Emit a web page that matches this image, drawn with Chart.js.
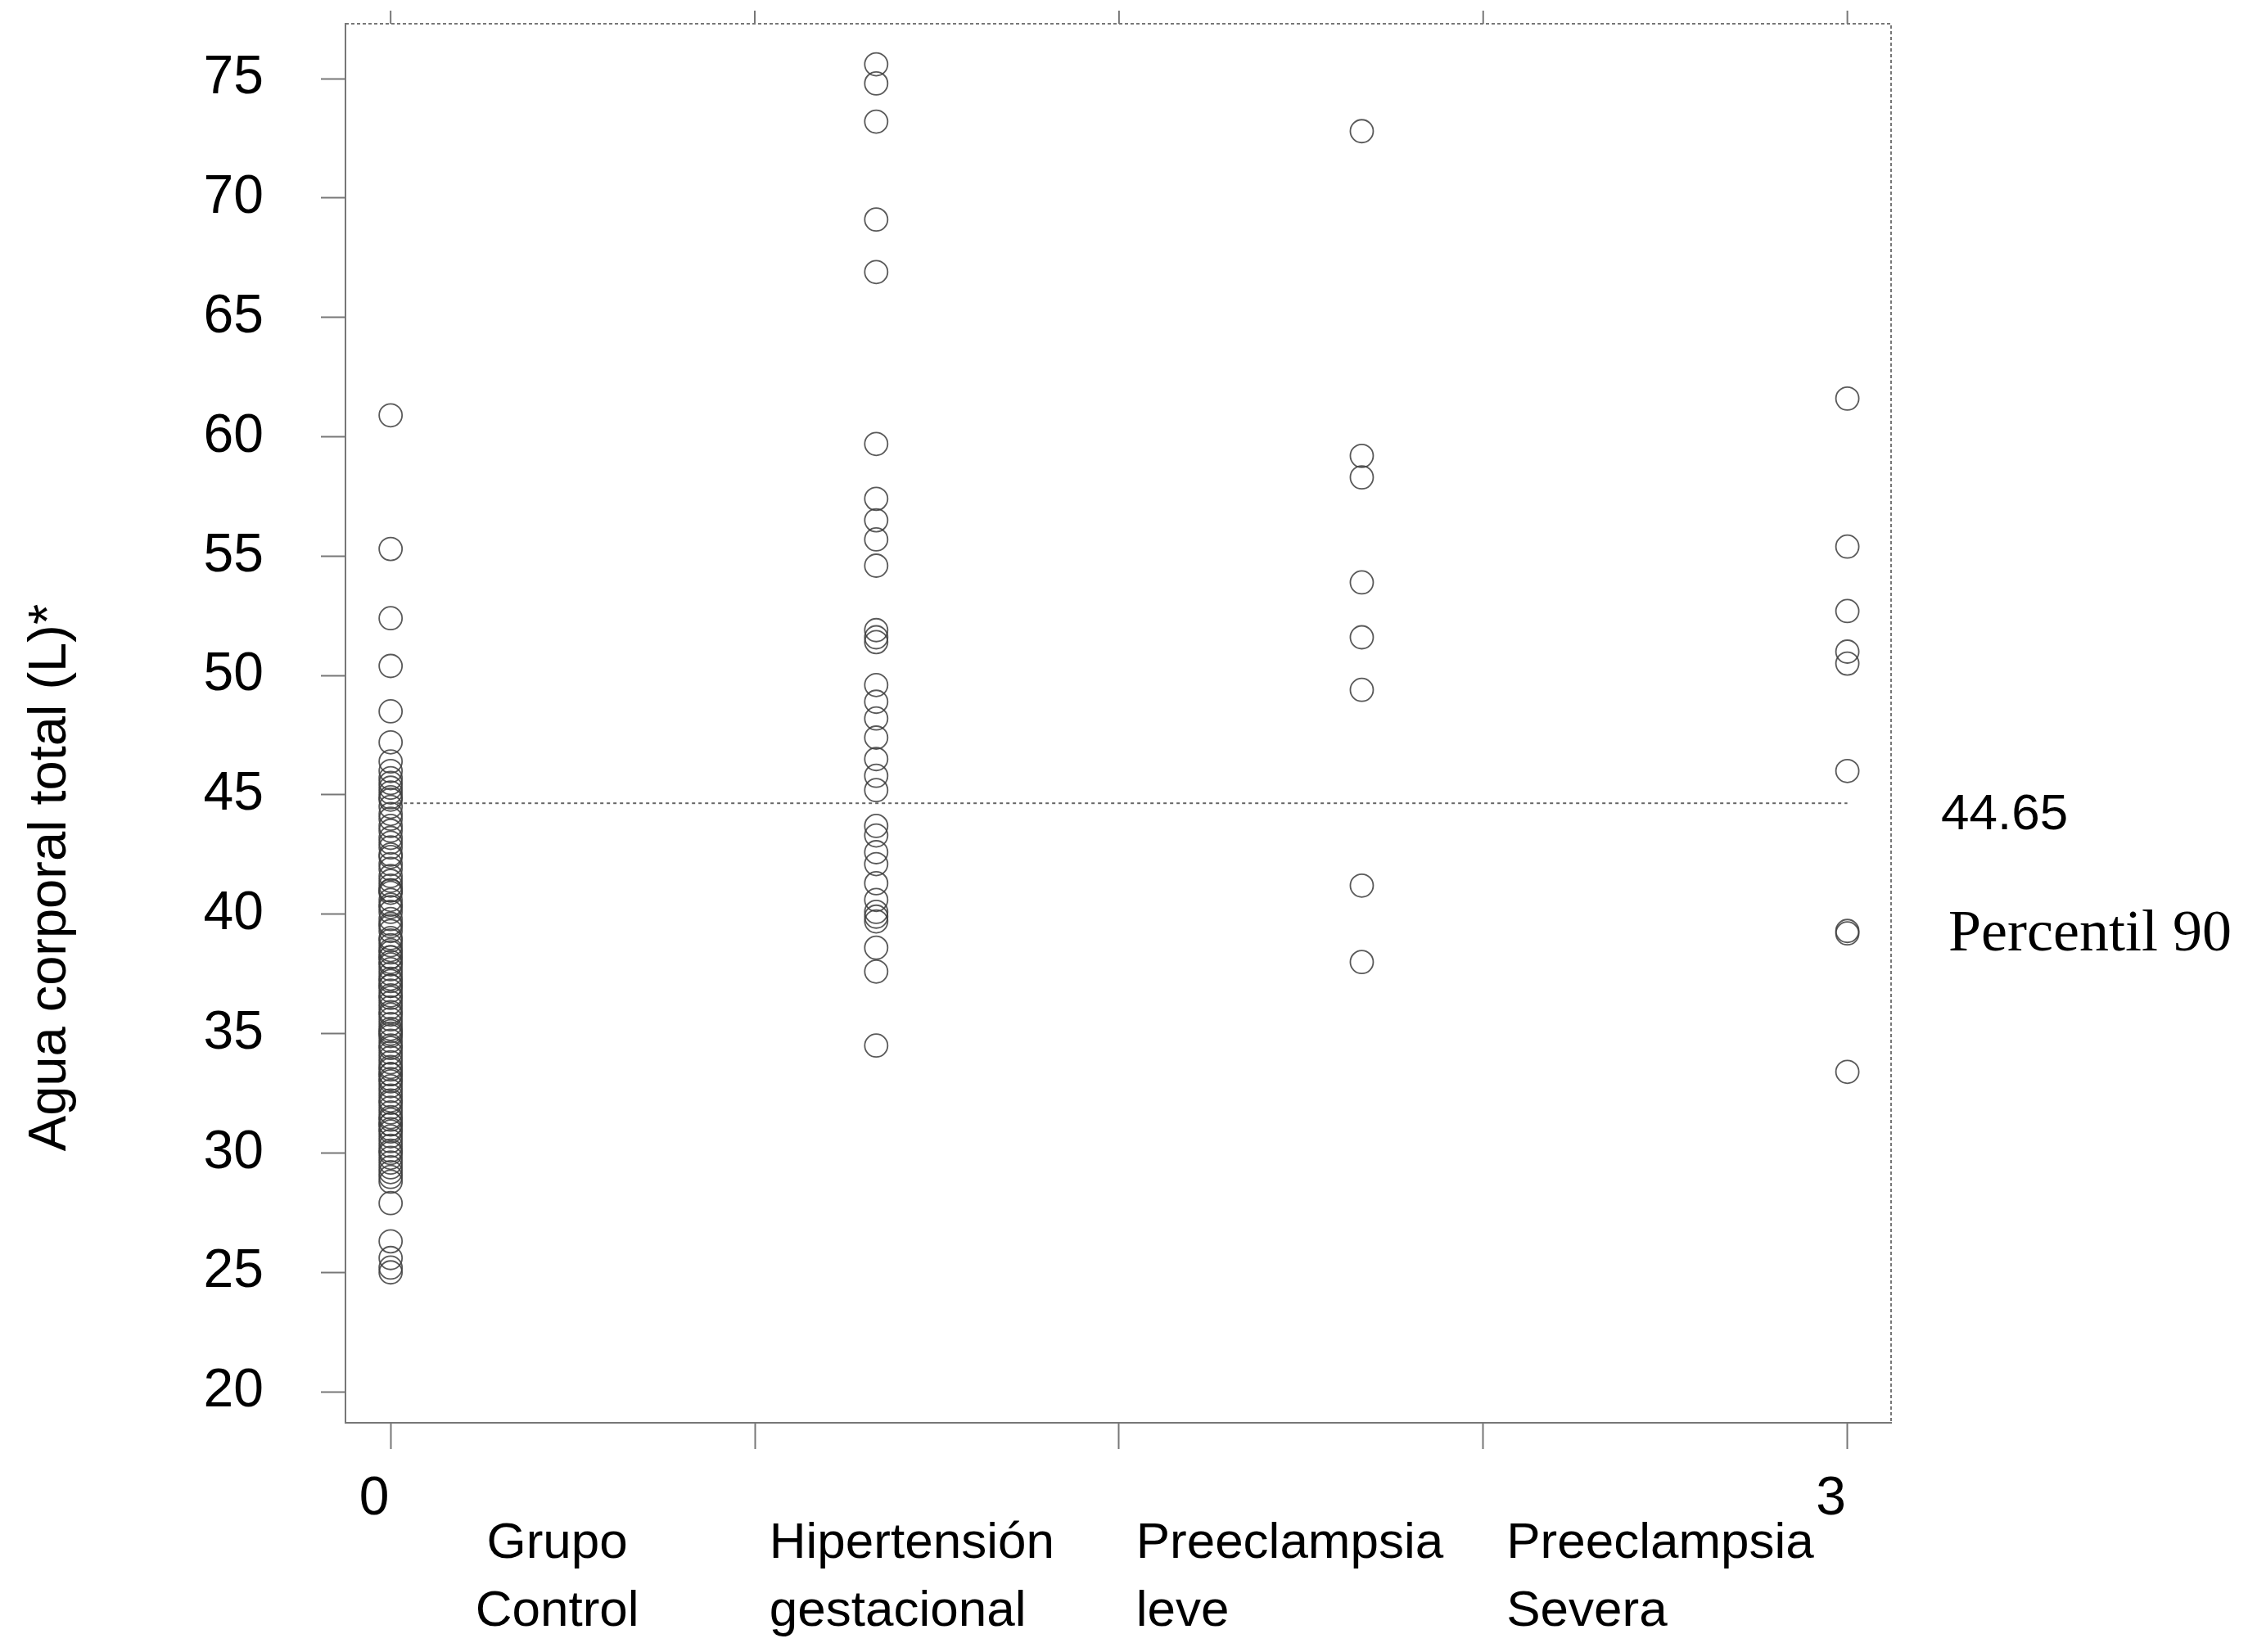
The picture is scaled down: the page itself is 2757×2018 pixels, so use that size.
<!DOCTYPE html>
<html>
<head>
<meta charset="utf-8">
<script src="https://cdn.jsdelivr.net/npm/chart.js@4.4.1/dist/chart.umd.min.js"></script>
<style>
  html, body { margin: 0; padding: 0; background: #fff; }
  #wrap { width: 2757px; height: 2018px; position: relative; }
</style>
</head>
<body>
<div id="wrap"><canvas id="waterChart"></canvas></div>
<script>
// 그룹 위치 (X축 값)
const groupX = [0, 1, 2, 3];

// 그룹별 카테고리 라벨 (두 줄)
const categoryLines = [
    ['Grupo', 'Control'],
    ['Hipertensión', 'gestacional'],
    ['Preeclampsia', 'leve'],
    ['Preeclampsia', 'Severa']
];

// 그룹별 체수분 값 (L)
const grupoControl = [
    60.9, 55.3, 52.4, 50.4, 48.5, 47.2, 46.4, 46.0, 45.7, 45.5, 45.3, 45.1, 44.9, 44.8,
    44.5, 44.2, 44.0, 43.7, 43.5, 43.2, 43.0, 42.8, 42.5, 42.4, 42.1, 41.9, 41.6, 41.4,
    41.2, 41.0, 41.0, 40.9, 40.6, 40.4, 40.3, 40.1, 39.8, 39.6, 39.5, 39.3, 39.0, 38.9,
    38.7, 38.5, 38.4, 38.2, 38.2, 38.0, 37.9, 37.7, 37.5, 37.3, 37.2, 37.0, 37.0, 36.8,
    36.6, 36.5, 36.3, 36.1, 35.9, 35.8, 35.6, 35.4, 35.2, 35.1, 35.0, 34.9, 34.7, 34.5,
    34.4, 34.2, 34.0, 33.8, 33.6, 33.5, 33.3, 33.3, 33.1, 33.0, 32.8, 32.6, 32.4, 32.2,
    32.1, 31.9, 31.7, 31.5, 31.4, 31.2, 31.2, 31.0, 30.9, 30.7, 30.5, 30.3, 30.1, 30.0,
    29.8, 29.6, 29.4, 29.2, 29.0, 28.8, 27.9, 26.3, 25.6, 25.2, 25.0
];
const hipertensionGest = [
    75.6, 74.8, 73.2, 69.1, 66.9, 59.7, 57.4, 56.5, 55.7, 54.6, 51.9, 51.6, 51.4, 49.6,
    48.9, 48.2, 47.4, 46.5, 45.8, 45.2, 43.7, 43.3, 42.6, 42.1, 41.3, 40.6, 40.1, 39.9,
    39.7, 38.6, 37.6, 34.5
];
const preeclampsiaLeve = [72.8, 59.2, 58.3, 53.9, 51.6, 49.4, 41.2, 38.0];
const preeclampsiaSevera = [61.6, 55.4, 52.7, 51.0, 50.5, 46.0, 39.3, 39.2, 33.4];

// 축 눈금
const yTickValues = [20, 25, 30, 35, 40, 45, 50, 55, 60, 65, 70, 75];
const xTickValues = [0, 0.75, 1.5, 2.25, 3];
const xTickLabels = ['0', '', '', '', '3'];

// 백분위 90 기준선
const percentil90 = 44.65;
const percentilLineX = [0, 3];

const yTitle = 'Agua corporal total (L)*';

document.addEventListener("DOMContentLoaded", function () {
    const groups = [grupoControl, hipertensionGest, preeclampsiaLeve, preeclampsiaSevera];

    // 산점도 데이터 만들기
    const scatterData = [];
    groups.forEach((vals, i) => {
        vals.forEach(v => scatterData.push({ x: groupX[i], y: v }));
    });

    // 축 밖의 글자와 위/오른쪽 테두리 그리기
    const extraText = {
        id: 'extraText',
        afterDraw(chart) {
            const c = chart.ctx;
            const area = chart.chartArea;
            const xs = chart.scales.x;
            const ys = chart.scales.y;

            c.save();
            c.strokeStyle = '#777';
            c.lineWidth = 2;
            c.setLineDash([4, 3]);
            c.beginPath();
            c.moveTo(area.left, area.top);
            c.lineTo(area.right, area.top);
            c.lineTo(area.right, area.bottom);
            c.stroke();
            c.setLineDash([]);
            xTickValues.forEach(v => {
                const px = xs.getPixelForValue(v);
                c.beginPath();
                c.moveTo(px, area.top);
                c.lineTo(px, area.top - 16);
                c.stroke();
            });
            c.restore();

            // Y축 제목
            c.save();
            c.fillStyle = '#000';
            c.font = '65px "Liberation Sans", Arial, sans-serif';
            c.translate(62, 1072);
            c.rotate(-Math.PI / 2);
            c.textAlign = 'center';
            c.textBaseline = 'middle';
            c.fillText(yTitle, 0, 0);
            c.restore();

            // 그룹 이름
            c.save();
            c.fillStyle = '#000';
            c.font = '62px "Liberation Sans", Arial, sans-serif';
            c.textBaseline = 'middle';
            const anchors = [0.343, 0.78, 1.535, 2.298];
            categoryLines.forEach((lines, i) => {
                const px = xs.getPixelForValue(anchors[i]);
                c.textAlign = i === 0 ? 'center' : 'left';
                lines.forEach((t, j) => {
                    c.fillText(t, px, area.bottom + 148 + j * 83);
                });
            });

            // 백분위 라벨
            const py = ys.getPixelForValue(percentil90);
            c.textAlign = 'left';
            c.font = '62px "Liberation Sans", Arial, sans-serif';
            c.fillText(percentil90.toFixed(2), 2371, py + 15);
            c.font = '72px "Liberation Serif", "Times New Roman", serif';
            c.fillText('Percentil 90', 2380, py + 161);
            c.restore();
        }
    };

    const ctx = document.getElementById('waterChart').getContext('2d');
    new Chart(ctx, {
        type: 'scatter',
        data: {
            datasets: [{
                label: 'Agua corporal total',
                data: scatterData,
                pointStyle: 'circle',
                pointRadius: 14,
                pointBorderWidth: 1.8,
                pointBorderColor: 'rgba(60, 60, 60, 0.85)',
                pointBackgroundColor: 'rgba(0, 0, 0, 0)',
                showLine: false
            }, {
                type: 'line',
                label: 'Percentil 90',
                data: percentilLineX.map(x => ({ x: x, y: percentil90 })),
                borderColor: '#666',
                borderWidth: 2,
                borderDash: [4, 4],
                pointRadius: 0,
                fill: false
            }]
        },
        options: {
            responsive: true,
            maintainAspectRatio: false,
            animation: false,
            layout: { padding: { left: 0, top: 29, right: 447, bottom: 0 } },
            plugins: {
                legend: { display: false },
                tooltip: { enabled: false }
            },
            scales: {
                x: {
                    type: 'linear',
                    min: -0.093,
                    max: 3.09,
                    afterBuildTicks: axis => { axis.ticks = xTickValues.map(v => ({ value: v })); },
                    afterFit: axis => {
                        axis.height = 280;
                        axis.paddingLeft = 0;
                        axis.paddingRight = 0;
                    },
                    ticks: {
                        autoSkip: false,
                        maxRotation: 0,
                        padding: 22,
                        labelOffset: -20,
                        color: '#000',
                        font: { family: '"Liberation Sans", Arial, sans-serif', size: 66 },
                        callback: (v, i) => xTickLabels[i]
                    },
                    grid: {
                        drawOnChartArea: false,
                        drawTicks: true,
                        tickLength: 32,
                        tickWidth: 2,
                        tickColor: '#777'
                    },
                    border: { display: true, color: '#777', width: 2, dash: [4, 3] }
                },
                y: {
                    min: 18.7,
                    max: 77.3,
                    afterBuildTicks: axis => { axis.ticks = yTickValues.map(v => ({ value: v })); },
                    afterFit: axis => {
                        axis.width = 422;
                        axis.paddingTop = 0;
                        axis.paddingBottom = 0;
                    },
                    ticks: {
                        padding: 70,
                        color: '#000',
                        font: { family: '"Liberation Sans", Arial, sans-serif', size: 66 }
                    },
                    grid: {
                        drawOnChartArea: false,
                        drawTicks: true,
                        tickLength: 30,
                        tickWidth: 2,
                        tickColor: '#777'
                    },
                    border: { display: true, color: '#777', width: 2, dash: [4, 3] }
                }
            }
        },
        plugins: [extraText]
    });
});
</script>
</body>
</html>
